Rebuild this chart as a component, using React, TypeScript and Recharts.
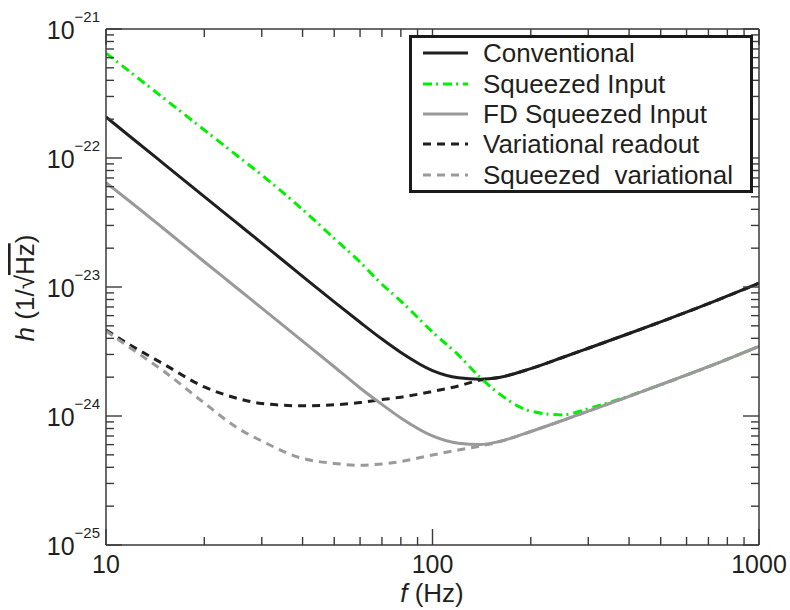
import React from 'react';
import { LineChart, Line, XAxis, YAxis, Legend } from 'recharts';

const freqs = [10, 12, 15, 20, 25, 30, 40, 50, 60, 70, 80, 100, 120, 140, 160, 200, 250, 300, 400, 500, 700, 1000];

const conventional = [
  2.08e-22, 1.43e-22, 9.05e-23, 5.02e-23, 3.18e-23, 2.19e-23, 1.21e-23, 7.67e-24, 5.33e-24, 3.95e-24, 3.11e-24,
  2.25e-24, 1.98e-24, 1.93e-24, 1.99e-24, 2.33e-24, 2.84e-24, 3.35e-24, 4.36e-24, 5.37e-24, 7.43e-24, 1.07e-23,
];
const squeezedInput = [
  6.5e-22, 4.54e-22, 2.92e-22, 1.65e-22, 1.06e-22, 7.38e-23, 3.99e-23, 2.38e-23, 1.56e-23, 1.05e-23, 7.78e-24,
  4.48e-24, 2.97e-24, 1.99e-24, 1.49e-24, 1.09e-24, 1.02e-24, 1.14e-24, 1.43e-24, 1.75e-24, 2.41e-24, 3.47e-24,
];
const fdSqueezed = [
  6.45e-23, 4.48e-23, 2.84e-23, 1.57e-23, 9.96e-24, 6.85e-24, 3.8e-24, 2.41e-24, 1.65e-24, 1.23e-24, 9.65e-25,
  7.0e-25, 6.14e-25, 6.01e-25, 6.34e-25, 7.58e-25, 9.23e-25, 1.09e-24, 1.42e-24, 1.75e-24, 2.41e-24, 3.47e-24,
];
const variational = [
  4.64e-24, 3.49e-24, 2.53e-24, 1.68e-24, 1.38e-24, 1.25e-24, 1.2e-24, 1.22e-24, 1.27e-24, 1.34e-24, 1.4e-24,
  1.55e-24, 1.71e-24, 1.9e-24, 1.99e-24, 2.33e-24, 2.84e-24, 3.35e-24, 4.36e-24, 5.37e-24, 7.43e-24, 1.07e-23,
];
const sqzVariational = [
  4.56e-24, 3.31e-24, 2.23e-24, 1.26e-24, 8.22e-25, 6.4e-25, 4.69e-25, 4.29e-25, 4.15e-25, 4.25e-25, 4.44e-25,
  4.99e-25, 5.45e-25, 5.85e-25, 6.3e-25, 7.58e-25, 9.23e-25, 1.09e-24, 1.42e-24, 1.75e-24, 2.41e-24, 3.47e-24,
];

const xTicks = [10, 20, 30, 40, 50, 60, 70, 80, 90, 100, 200, 300, 400, 500, 600, 700, 800, 900, 1000];
const yDecades = [-25, -24, -23, -22];
const yTicks = [
  ...yDecades.flatMap((d) => [1, 2, 3, 4, 5, 6, 7, 8, 9].map((m) => m * Math.pow(10, d))),
  1e-21,
];

const data = freqs.map((f, i) => ({
  f,
  conv: conventional[i],
  sqz: squeezedInput[i],
  fd: fdSqueezed[i],
  vr: variational[i],
  sv: sqzVariational[i],
}));

const series = [
  { key: 'conv', name: 'Conventional', color: '#1f1f1f', dash: undefined },
  { key: 'sqz', name: 'Squeezed Input', color: '#00f000', dash: '9 4 2 5' },
  { key: 'fd', name: 'FD Squeezed Input', color: '#999999', dash: undefined },
  { key: 'vr', name: 'Variational readout', color: '#1f1f1f', dash: '8 6' },
  { key: 'sv', name: 'Squeezed  variational', color: '#9a9a9a', dash: '8 6' },
];

const FONT = '"Liberation Sans", Arial, Helvetica, sans-serif';
const TEXT = '#231f20';
const FRAME = '#3a3a3a';

const isMajor = (v: number) => Math.abs(Math.log10(v) - Math.round(Math.log10(v))) < 1e-6;

const LeftTick = (props: any) => {
  const { x, y, payload } = props;
  const major = isMajor(payload.value);
  const exp = Math.round(Math.log10(payload.value));
  return (
    <g>
      <line x1={x} x2={x + (major ? 16 : 8)} y1={y} y2={y} stroke={FRAME} strokeWidth={1.4} />
      {major && (
        <text x={x - 6} y={y + 10} textAnchor="end" fill={TEXT} fontFamily={FONT}>
          <tspan fontSize={25}>10</tspan>
          <tspan fontSize={15} dy={-17}>{'\u2212' + String(-exp)}</tspan>
        </text>
      )}
    </g>
  );
};

const RightTick = (props: any) => {
  const { x, y, payload } = props;
  const major = isMajor(payload.value);
  return <line x1={x} x2={x - (major ? 16 : 8)} y1={y} y2={y} stroke={FRAME} strokeWidth={1.4} />;
};

const BottomTick = (props: any) => {
  const { x, y, payload } = props;
  const major = isMajor(payload.value);
  return (
    <g>
      <line x1={x} x2={x} y1={y} y2={y - (major ? 16 : 8)} stroke={FRAME} strokeWidth={1.4} />
      {major && (
        <text x={x} y={y + 28} textAnchor="middle" fontSize={25} fill={TEXT} fontFamily={FONT}>
          {payload.value}
        </text>
      )}
    </g>
  );
};

const TopTick = (props: any) => {
  const { x, y, payload } = props;
  const major = isMajor(payload.value);
  return <line x1={x} x2={x} y1={y} y2={y + (major ? 16 : 8)} stroke={FRAME} strokeWidth={1.4} />;
};

const LegendBox = () => (
  <div
    style={{
      border: '3px solid #1a1a1a',
      background: '#fff',
      boxSizing: 'border-box',
      width: 344,
      height: 158,
      fontFamily: FONT,
      fontSize: 26,
      color: TEXT,
    }}
  >
    {series.map((s) => (
      <div key={s.key} style={{ height: 30.4, display: 'flex', alignItems: 'center' }}>
        <svg width={45} height={8} style={{ marginLeft: 11, marginRight: 15 }}>
          <line x1={0} x2={45} y1={4} y2={4} stroke={s.color} strokeWidth={3} strokeDasharray={s.dash} />
        </svg>
        <span style={{ whiteSpace: 'pre', lineHeight: '30px' }}>{s.name}</span>
      </div>
    ))}
  </div>
);

export default function App() {
  const order = ['conv', 'vr', 'sqz', 'fd', 'sv'];
  return (
    <div style={{ position: 'absolute', left: 0, top: 0, width: 790, height: 610, background: '#fff' }}>
      <LineChart width={790} height={610} data={data} margin={{ top: 0, right: 0, bottom: 0, left: 0 }}>
        <XAxis
          dataKey="f"
          type="number"
          scale="log"
          domain={[10, 1000]}
          allowDataOverflow
          ticks={xTicks}
          interval={0}
          height={65}
          tickSize={0}
          tickMargin={0}
          tickLine={false}
          tick={<BottomTick />}
          axisLine={{ stroke: FRAME, strokeWidth: 1.5 }}
        />
        <XAxis
          xAxisId="top"
          orientation="top"
          dataKey="f"
          type="number"
          scale="log"
          domain={[10, 1000]}
          allowDataOverflow
          ticks={xTicks}
          interval={0}
          height={29}
          tickSize={0}
          tickMargin={0}
          tickLine={false}
          tick={<TopTick />}
          axisLine={{ stroke: FRAME, strokeWidth: 1.5 }}
        />
        <YAxis
          type="number"
          scale="log"
          domain={[1e-25, 1e-21]}
          allowDataOverflow
          ticks={yTicks}
          interval={0}
          width={106}
          tickSize={0}
          tickMargin={0}
          tickLine={false}
          tick={<LeftTick />}
          axisLine={{ stroke: FRAME, strokeWidth: 1.5 }}
        />
        <YAxis
          yAxisId="right"
          orientation="right"
          type="number"
          scale="log"
          domain={[1e-25, 1e-21]}
          allowDataOverflow
          ticks={yTicks}
          interval={0}
          width={31}
          tickSize={0}
          tickMargin={0}
          tickLine={false}
          tick={<RightTick />}
          axisLine={{ stroke: FRAME, strokeWidth: 1.5 }}
        />
        {order.map((k) => {
          const s = series.find((x) => x.key === k)!;
          return (
            <Line
              key={k}
              dataKey={k}
              name={s.name}
              type="monotone"
              stroke={s.color}
              strokeWidth={3}
              strokeDasharray={s.dash}
              dot={false}
              activeDot={false}
              isAnimationActive={false}
            />
          );
        })}
        <Legend
          layout="vertical"
          align="center"
          verticalAlign="middle"
          content={<LegendBox />}
          wrapperStyle={{ top: 35, left: 409, width: 344, height: 158 }}
        />
      </LineChart>
      <svg
        width={790}
        height={610}
        style={{ position: 'absolute', left: 0, top: 0, pointerEvents: 'none' }}
      >
        <text x={432} y={602} textAnchor="middle" fontSize={26} fill={TEXT} fontFamily={FONT}>
          <tspan fontStyle="italic">f</tspan> (Hz)
        </text>
        <text
          transform="translate(34,288) rotate(-90)"
          textAnchor="middle"
          fontSize={26}
          fill={TEXT}
          fontFamily={FONT}
        >
          <tspan fontStyle="italic">h</tspan> (1/{'\u221A'}
          <tspan textDecoration="overline">Hz</tspan>)
        </text>
      </svg>
    </div>
  );
}
